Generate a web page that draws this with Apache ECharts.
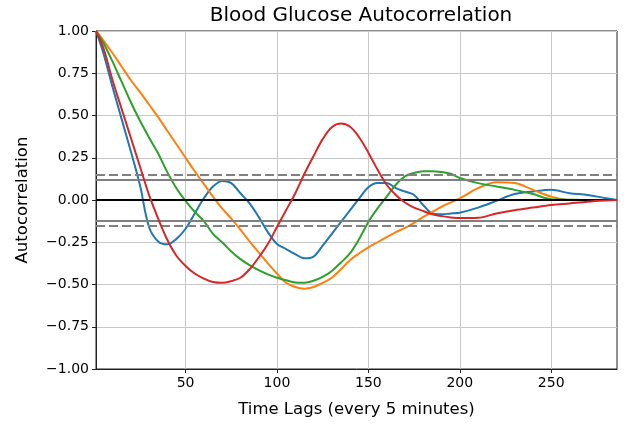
<!DOCTYPE html>
<html>
<head>
<meta charset="utf-8">
<script src="https://cdn.jsdelivr.net/npm/echarts@6/dist/echarts.min.js"></script>
<style>html,body{margin:0;padding:0;background:#fff}#c{width:624px;height:426px}</style>
</head>
<body>
<div id="c"></div>
<script>
const lags = [1,5,10,15,20,25,30,35,40,45,50,55,60,65,70,75,80,85,90,95,100,105,110,115,120,125,130,135,140,145,150,155,160,165,170,175,180,185,190,195,200,210,220,230,240,250,260,270,280,286];
const blue = [1.0,0.87,0.67,0.48,0.29,0.09,-0.16,-0.245,-0.262,-0.23,-0.17,-0.08,0.01,0.08,0.113,0.10,0.04,-0.02,-0.10,-0.19,-0.26,-0.29,-0.32,-0.345,-0.335,-0.27,-0.2,-0.13,-0.06,0.01,0.075,0.10,0.10,0.07,0.05,0.03,-0.03,-0.08,-0.085,-0.08,-0.075,-0.045,-0.005,0.035,0.05,0.06,0.04,0.03,0.01,0.0];
const orange = [1.0,0.945,0.87,0.79,0.71,0.64,0.565,0.49,0.41,0.33,0.25,0.17,0.095,0.02,-0.05,-0.11,-0.175,-0.245,-0.31,-0.375,-0.435,-0.49,-0.515,-0.525,-0.515,-0.49,-0.46,-0.41,-0.355,-0.315,-0.28,-0.25,-0.22,-0.19,-0.165,-0.135,-0.10,-0.07,-0.04,-0.015,0.01,0.07,0.105,0.10,0.06,0.02,0.0,0.0,0.0,0.0];
const green = [1.0,0.93,0.82,0.70,0.58,0.47,0.37,0.275,0.165,0.07,-0.005,-0.07,-0.125,-0.2,-0.25,-0.305,-0.35,-0.385,-0.415,-0.44,-0.46,-0.475,-0.488,-0.49,-0.478,-0.455,-0.42,-0.37,-0.315,-0.23,-0.13,-0.05,0.02,0.09,0.14,0.16,0.17,0.17,0.165,0.155,0.13,0.10,0.08,0.06,0.035,0.005,0.002,0.0,0.0,0.0];
const red = [1.0,0.90,0.71,0.54,0.37,0.2,0.03,-0.11,-0.235,-0.33,-0.39,-0.435,-0.465,-0.485,-0.49,-0.48,-0.46,-0.41,-0.34,-0.26,-0.16,-0.06,0.04,0.155,0.26,0.36,0.43,0.452,0.433,0.37,0.28,0.18,0.09,0.03,-0.015,-0.045,-0.065,-0.085,-0.095,-0.103,-0.107,-0.105,-0.08,-0.06,-0.045,-0.03,-0.02,-0.01,-0.003,0.0];
const xTicks = [50,100,150,200,250];
const band99 = 0.1518;
const band95 = 0.1155;

const font = 'DejaVu Sans';
const pair = arr => lags.map((l, i) => [l, arr[i]]);
const mkSeries = (name, arr, color, z) => ({
  name, type: 'line', data: pair(arr), showSymbol: false, smooth: 0.35,
  lineStyle: { color, width: 2 }, itemStyle: { color }, z, animation: false
});
const chart = echarts.init(document.getElementById('c'), null, { renderer: 'canvas' });
chart.setOption({
  animation: false,
  title: { text: 'Blood Glucose Autocorrelation', left: 356, top: 1, textAlign: 'center',
    textStyle: { fontFamily: font, fontSize: 20, fontWeight: 'normal', color: '#000' } },
  grid: { left: 96, right: 7, top: 31, bottom: 57, show: true, borderColor: '#222', borderWidth: 1, backgroundColor: 'transparent' },
  xAxis: {
    type: 'value', min: 1, max: 286,
    name: 'Time Lags (every 5 minutes)', nameLocation: 'middle', nameGap: 32,
    nameTextStyle: { fontFamily: font, fontSize: 16.5, color: '#000' },
    axisLine: { show: true, onZero: false, lineStyle: { color: '#222', width: 1 } },
    axisTick: { show: true, inside: false, length: 4, customValues: xTicks, lineStyle: { color: '#222' } },
    axisLabel: { customValues: xTicks, fontFamily: font, fontSize: 14, color: '#000', margin: 7 },
    splitLine: { show: false }
  },
  yAxis: {
    type: 'value', min: -1, max: 1, interval: 0.25,
    name: 'Autocorrelation', nameLocation: 'middle', nameGap: 65, nameRotate: 90,
    nameTextStyle: { fontFamily: font, fontSize: 16.5, color: '#000' },
    axisLine: { show: true, lineStyle: { color: '#222', width: 1 } },
    axisTick: { show: true, inside: false, length: 4, lineStyle: { color: '#222' } },
    axisLabel: { fontFamily: font, fontSize: 14, color: '#000', margin: 7,
      formatter: v => v.toFixed(2).replace('-', '\u2212') },
    splitLine: { show: true, lineStyle: { color: '#c8c8c8', width: 1 } }
  },
  series: [
    { type: 'line', data: [], silent: true,
      markLine: { silent: true, symbol: 'none', z: 0, label: { show: false },
        lineStyle: { color: '#c8c8c8', width: 1, type: 'solid' },
        data: xTicks.map(v => ({ xAxis: v })) } },
    mkSeries('s1', blue, '#1f77b4', 1),
    mkSeries('s2', orange, '#ff7f0e', 1),
    mkSeries('s3', green, '#2ca02c', 1),
    { type: 'line', data: [], silent: true,
      markLine: { silent: true, symbol: 'none', z: 2, label: { show: false },
        data: [
          { yAxis: band99, lineStyle: { color: '#808080', width: 2, type: [9, 4] } },
          { yAxis: -band99, lineStyle: { color: '#808080', width: 2, type: [9, 4] } },
          { yAxis: band95, lineStyle: { color: '#808080', width: 2, type: 'solid' } },
          { yAxis: -band95, lineStyle: { color: '#808080', width: 2, type: 'solid' } },
          { yAxis: 0, lineStyle: { color: '#000', width: 2, type: 'solid' } }
        ] } },
    mkSeries('s4', red, '#d62728', 3)
  ]
});
</script>
</body>
</html>
